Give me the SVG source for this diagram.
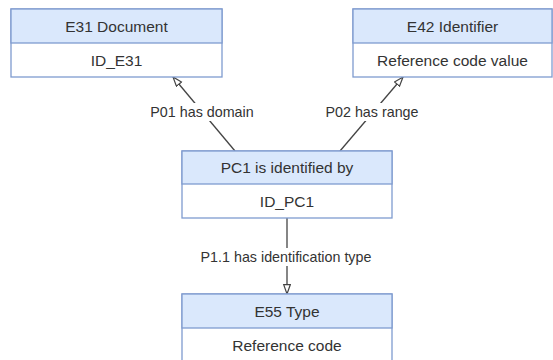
<svg xmlns="http://www.w3.org/2000/svg" width="553" height="360" viewBox="0 0 553 360">
<defs>
<style>
.box{fill:#ffffff;stroke:#7f9bcf;stroke-width:1.3}
.hdr{fill:#dae8fc;stroke:#7f9bcf;stroke-width:1.3}
.t{font-family:"Liberation Sans",Arial,sans-serif;font-size:15.5px;fill:#333333;text-anchor:middle}
.lbl{font-family:"Liberation Sans",Arial,sans-serif;font-size:14.3px;fill:#333333;text-anchor:middle}
.edge{fill:none;stroke:#444444;stroke-width:1.3}
.bg{fill:#ffffff}
</style>
<marker id="tri" markerUnits="userSpaceOnUse" markerWidth="12" markerHeight="10" refX="10" refY="4" orient="auto">
<path d="M0.7,0.7 L10,4 L0.7,7.3 Z" fill="#ffffff" stroke="#444444" stroke-width="1.2"/>
</marker>
</defs>
<rect width="553" height="360" fill="#ffffff"/>
<g id="connectors">
<line class="edge" x1="235" y1="151" x2="173" y2="77" marker-end="url(#tri)"/>
<line class="edge" x1="340" y1="151" x2="403" y2="77" marker-end="url(#tri)"/>
<line class="edge" x1="287" y1="218" x2="287" y2="294" marker-end="url(#tri)"/>
<rect class="bg" x="148" y="103" width="109" height="18"/>
<text class="lbl" x="202" y="117">P01 has domain</text>
<rect class="bg" x="323" y="103" width="98" height="18"/>
<text class="lbl" x="372" y="117">P02 has range</text>
<rect class="bg" x="197" y="248" width="180" height="18"/>
<text class="lbl" x="286" y="262">P1.1 has identification type</text>
</g>
<g id="E31">
<rect class="box" x="11" y="9" width="211" height="68"/>
<rect class="hdr" x="11" y="9" width="211" height="34"/>
<text class="t" x="116.5" y="31.5">E31 Document</text>
<text class="t" x="116.5" y="65.5">ID_E31</text>
</g>
<g id="E42">
<rect class="box" x="353" y="9" width="199" height="68"/>
<rect class="hdr" x="353" y="9" width="199" height="34"/>
<text class="t" x="452.5" y="31.5">E42 Identifier</text>
<text class="t" x="452.5" y="65.5">Reference code value</text>
</g>
<g id="PC1">
<rect class="box" x="182" y="151" width="210" height="67"/>
<rect class="hdr" x="182" y="151" width="210" height="33"/>
<text class="t" x="287" y="173">PC1 is identified by</text>
<text class="t" x="287" y="206.5">ID_PC1</text>
</g>
<g id="E55">
<rect class="box" x="182" y="294" width="210" height="69"/>
<rect class="hdr" x="182" y="294" width="210" height="34"/>
<text class="t" x="287" y="316.5">E55 Type</text>
<text class="t" x="287" y="350.5">Reference code</text>
</g>
</svg>
